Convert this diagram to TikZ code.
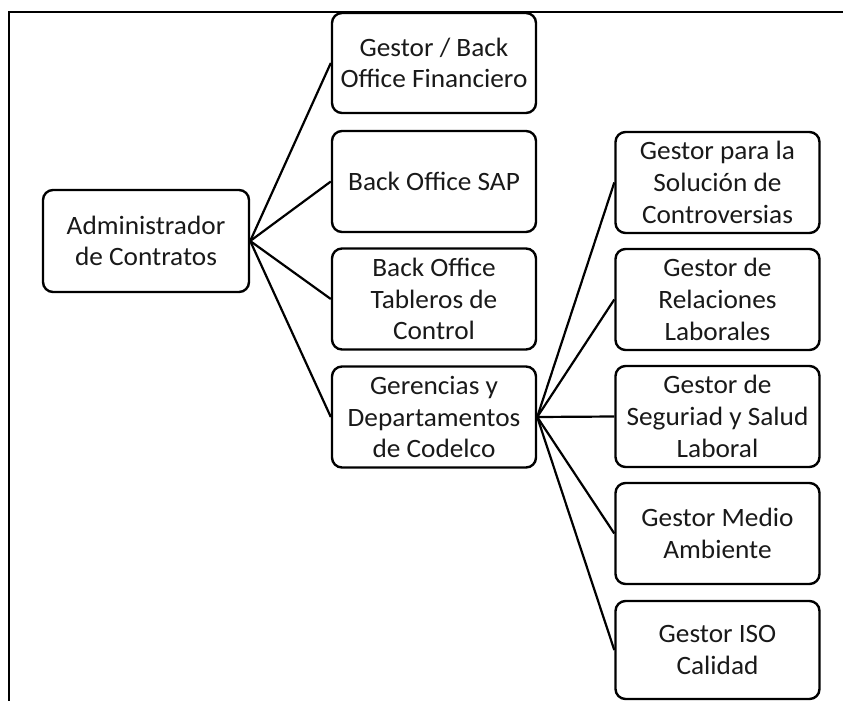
\documentclass[tikz,border=0pt]{standalone}
\usepackage{fontspec}
\setmainfont[FakeStretch=1.03]{Carlito}
\begin{document}
\begin{tikzpicture}[x=1pt,y=-1pt,line width=2.4pt,
  orgbox/.style={draw=black,rounded corners=10pt,rectangle,minimum width=204pt,
    minimum height=101pt,inner sep=0pt,align=center,text=black!90,
    font=\fontsize{26.5}{31.7}\selectfont},
  link/.style={draw=black,line width=2.2pt}]
\useasboundingbox (0,0) rectangle (843,701);
% page frame (open on the right and bottom)
\draw[line width=2.6pt] (9,701) -- (9,12) -- (843,12);

\node[orgbox,minimum width=206pt,minimum height=102pt] (admin) at (146,241) {Administrador\\de Contratos};

\node[orgbox,minimum height=100pt] (fin) at (434,63) {Gestor / Back\\Office Financiero};
\node[orgbox] (sap) at (434,181.5) {Back Office SAP};
\node[orgbox] (tab) at (434,299) {Back Office\\Tableros de\\Control};
\node[orgbox] (ger) at (434,417) {Gerencias y\\Departamentos\\de Codelco};

\node[orgbox] (contro) at (717.5,182.5) {Gestor para la\\Solución de\\Controversias};
\node[orgbox] (rel) at (717.5,299.5) {Gestor de\\Relaciones\\Laborales};
\node[orgbox] (seg) at (717.5,416.5) {Gestor de\\Seguriad y Salud\\Laboral};
\node[orgbox] (med) at (717.5,533.5) {Gestor Medio\\Ambiente};
\node[orgbox,minimum height=98pt] (iso) at (717.5,650) {Gestor ISO\\Calidad};

\foreach \t in {fin,sap,tab,ger}
  \draw[link] (admin.east) -- (\t.west);
\foreach \t in {contro,rel,seg,med,iso}
  \draw[link] (ger.east) -- (\t.west);
\end{tikzpicture}
\end{document}
